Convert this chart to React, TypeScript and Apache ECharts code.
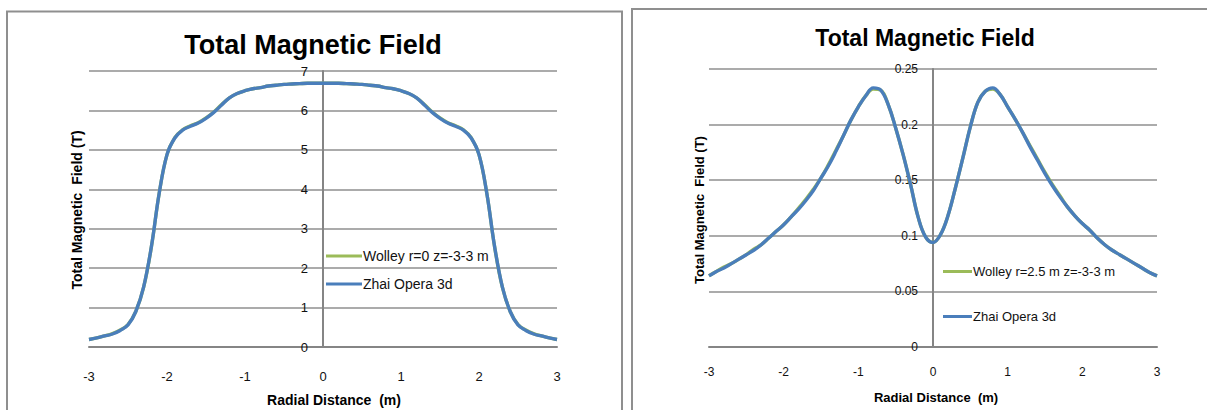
import React, { useEffect, useRef } from "react";
import * as echarts from "echarts";

// Radial distance samples (m), shared by both panels
const radialDistance = [
  -3.0, -2.9, -2.8, -2.7, -2.6, -2.5, -2.4, -2.3, -2.2, -2.1, -2.0, -1.9, -1.8, -1.7, -1.6, -1.5,
  -1.4, -1.3, -1.2, -1.1, -1.0, -0.9, -0.8, -0.7, -0.6, -0.5, -0.4, -0.3, -0.2, -0.1, 0.0,
  0.1, 0.2, 0.3, 0.4, 0.5, 0.6, 0.7, 0.8, 0.9, 1.0, 1.1, 1.2, 1.3, 1.4, 1.5, 1.6, 1.7, 1.8,
  1.9, 2.0, 2.1, 2.2, 2.3, 2.4, 2.5, 2.6, 2.7, 2.8, 2.9, 3.0,
];

// Left panel (r = 0): total field in T
const zhaiR0 = [
  0.19, 0.23, 0.28, 0.33, 0.42, 0.56, 0.9, 1.52, 2.55, 3.9, 4.88, 5.3, 5.5, 5.6, 5.68, 5.8,
  5.95, 6.14, 6.32, 6.43, 6.5, 6.55, 6.58, 6.62, 6.64, 6.66, 6.67, 6.68, 6.69, 6.69, 6.69,
  6.69, 6.69, 6.68, 6.67, 6.66, 6.64, 6.62, 6.58, 6.55, 6.5, 6.43, 6.32, 6.14, 5.95, 5.8,
  5.68, 5.6, 5.5, 5.3, 4.88, 3.9, 2.55, 1.52, 0.9, 0.56, 0.42, 0.33, 0.28, 0.23, 0.19,
];
const wolleyR0 = [
  0.19, 0.23, 0.28, 0.34, 0.43, 0.57, 0.9, 1.51, 2.54, 3.9, 4.88, 5.31, 5.51, 5.61, 5.69, 5.81,
  5.96, 6.15, 6.32, 6.43, 6.5, 6.55, 6.58, 6.62, 6.64, 6.66, 6.67, 6.68, 6.69, 6.69, 6.69,
  6.69, 6.69, 6.68, 6.67, 6.66, 6.64, 6.62, 6.58, 6.55, 6.5, 6.43, 6.32, 6.15, 5.96, 5.81,
  5.69, 5.61, 5.51, 5.31, 4.88, 3.9, 2.54, 1.51, 0.9, 0.57, 0.43, 0.34, 0.28, 0.23, 0.19,
];

// Right panel (r = 2.5 m): total field in T
const zhaiR25 = [
  0.064, 0.068, 0.071, 0.075, 0.079, 0.083, 0.087, 0.092, 0.098, 0.104, 0.11, 0.117, 0.124,
  0.132, 0.141, 0.152, 0.163, 0.176, 0.19, 0.204, 0.216, 0.226, 0.233, 0.231, 0.218, 0.197,
  0.173, 0.146, 0.117, 0.099, 0.094, 0.101, 0.118, 0.143, 0.17, 0.198, 0.22, 0.23, 0.233,
  0.227, 0.216, 0.205, 0.193, 0.18, 0.168, 0.156, 0.145, 0.135, 0.126, 0.118, 0.111, 0.105,
  0.098, 0.092, 0.087, 0.083, 0.079, 0.075, 0.071, 0.067, 0.064,
];
const wolleyR25 = [
  0.064, 0.068, 0.072, 0.075, 0.079, 0.083, 0.088, 0.092, 0.098, 0.104, 0.11, 0.117, 0.125,
  0.133, 0.142, 0.152, 0.164, 0.177, 0.19, 0.204, 0.216, 0.226, 0.232, 0.231, 0.218, 0.197,
  0.173, 0.146, 0.117, 0.099, 0.094, 0.101, 0.118, 0.143, 0.17, 0.198, 0.22, 0.23, 0.232,
  0.227, 0.216, 0.205, 0.193, 0.181, 0.169, 0.157, 0.146, 0.136, 0.126, 0.118, 0.111, 0.105,
  0.098, 0.092, 0.087, 0.083, 0.079, 0.075, 0.071, 0.067, 0.064,
];

const xTicks = [-3, -2, -1, 0, 1, 2, 3];
const leftLegend = ["Wolley r=0 z=-3-3 m", "Zhai Opera 3d"];
const rightLegend = ["Wolley r=2.5 m z=-3-3 m", "Zhai Opera 3d"];
const chartTitle = "Total Magnetic Field";
const xName = "Radial Distance  (m)";
const yName = "Total Magnetic  Field (T)";

const FONT = "'Liberation Sans', Arial, sans-serif";
const GREEN = "#9bbb59";
const BLUE = "#4a7ebb";
const GRID = "#8f8f8f";
const AXIS = "#858585";
const TXT = "#111";

function pairs(xs: number[], ys: number[]) {
  return xs.map((x, i) => [x, ys[i]]);
}

export default function App() {
  const ref = useRef<HTMLDivElement>(null);
  useEffect(() => {
    if (!ref.current) return;
    const chart = echarts.init(ref.current, undefined, { renderer: "svg" });

    const xAxisBase = (margin: number, size: number, gi: number) => ({
      type: "value",
      gridIndex: gi,
      min: xTicks[0],
      max: xTicks[xTicks.length - 1],
      interval: 1,
      axisLine: { show: true, onZero: true, lineStyle: { color: AXIS, width: 2 } },
      axisTick: { show: false },
      splitLine: { show: false },
      axisLabel: { margin, fontSize: size, color: TXT, fontFamily: FONT },
    });
    const yAxisBase = (max: number, interval: number, size: number, gi: number, margin: number) => ({
      type: "value",
      gridIndex: gi,
      min: 0,
      max,
      interval,
      axisLine: { show: true, onZero: true, lineStyle: { color: AXIS, width: 2 } },
      axisTick: { show: false },
      splitLine: { show: true, lineStyle: { color: GRID, width: 1.5 } },
      axisLabel: { margin, fontSize: size, color: TXT, fontFamily: FONT },
    });

    const lineSeries = (name: string, ys: number[], color: string, gi: number) => ({
      type: "line",
      name,
      xAxisIndex: gi,
      yAxisIndex: gi,
      data: pairs(radialDistance, ys),
      smooth: 0.4,
      showSymbol: false,
      symbol: "none",
      lineStyle: { color, width: 3.4 },
      itemStyle: { color },
    });

    const legendItem = (name: string, left: number, top: number, w: number, size: number) => ({
      data: [name],
      left,
      top,
      orient: "vertical",
      icon: "rect",
      itemWidth: w,
      itemHeight: 3,
      itemGap: 0,
      padding: 0,
      selectedMode: false,
      textStyle: { fontSize: size, color: TXT, fontFamily: FONT, padding: [0, 0, 0, -4] },
    });

    const txt = (text: string, x: number, y: number, size: number, rot = 0) => ({
      type: "text",
      x,
      y,
      rotation: rot,
      style: {
        text,
        font: `bold ${size}px ${FONT}`,
        fill: "#000",
        align: "center",
        verticalAlign: "middle",
        textAlign: "center",
        textVerticalAlign: "middle",
      },
    });

    chart.setOption({
      animation: false,
      backgroundColor: "#fff",
      grid: [
        { left: 89, top: 71, width: 468, height: 276 },
        { left: 709, top: 69, width: 448, height: 278 },
      ],
      xAxis: [xAxisBase(23, 13, 0), xAxisBase(19, 12, 1)],
      yAxis: [yAxisBase(7, 1, 13, 0, -219), yAxisBase(0.25, 0.05, 12, 1, -209)],
      legend: [
        legendItem(leftLegend[0], 326, 249, 36, 14),
        legendItem(leftLegend[1], 326, 277, 36, 14),
        legendItem(rightLegend[0], 943, 265, 29, 13),
        legendItem(rightLegend[1], 943, 310, 29, 13),
      ],
      series: [
        lineSeries(leftLegend[0], wolleyR0, GREEN, 0),
        lineSeries(leftLegend[1], zhaiR0, BLUE, 0),
        lineSeries(rightLegend[0], wolleyR25, GREEN, 1),
        lineSeries(rightLegend[1], zhaiR25, BLUE, 1),
      ],
      graphic: [
        {
          type: "rect",
          shape: { x: 7, y: 11.5, width: 615, height: 420 },
          style: { fill: "none", stroke: GRID, lineWidth: 2 },
          silent: true,
        },
        {
          type: "rect",
          shape: { x: 632, y: 9, width: 620, height: 420 },
          style: { fill: "none", stroke: GRID, lineWidth: 2 },
          silent: true,
        },
        txt(chartTitle, 313, 45, 27),
        txt(chartTitle, 925, 38, 23),
        txt(xName, 334, 400, 14),
        txt(xName, 936, 397, 13),
        txt(yName, 77, 210, 14, Math.PI / 2),
        txt(yName, 699, 210, 13, Math.PI / 2),
      ],
    });
    return () => chart.dispose();
  }, []);
  return (
    <div
      ref={ref}
      style={{ position: "absolute", left: 0, top: 0, width: 1207, height: 410 }}
    />
  );
}
